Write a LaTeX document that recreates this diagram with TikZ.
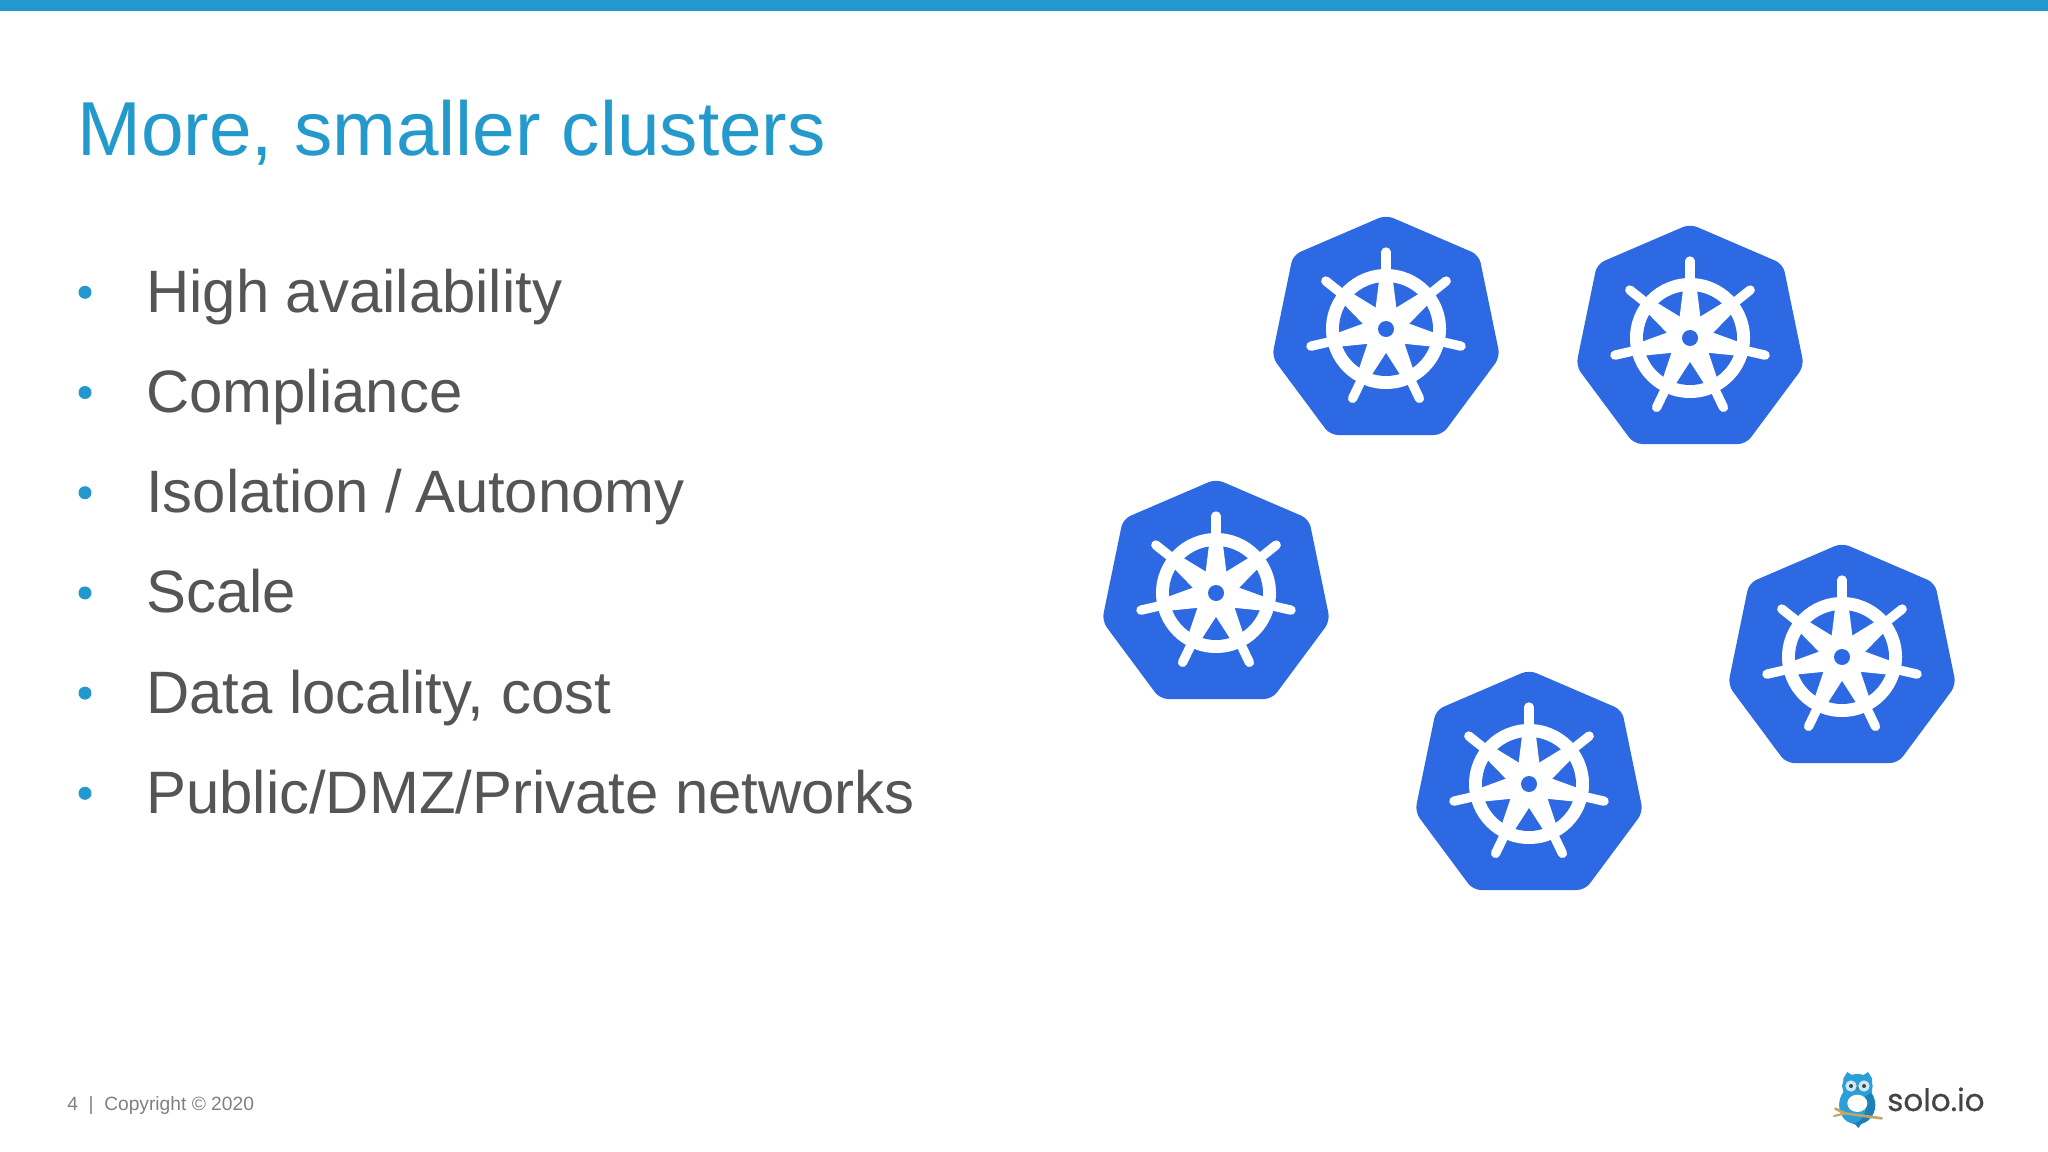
\documentclass[tikz,border=0pt]{standalone}
\usepackage{fontspec}
\setmainfont{Liberation Sans}
\newfontfamily\logofont[FakeBold=0.5]{Poppins}
\definecolor{barblue}{HTML}{2398CE}
\definecolor{titleblue}{HTML}{2499CC}
\definecolor{bodygray}{HTML}{555555}
\definecolor{footgray}{HTML}{808080}
\definecolor{kubeblue}{HTML}{2D69E3}
\definecolor{owlblue}{HTML}{2A9FD8}
\definecolor{owldark}{HTML}{1C7FB8}
\definecolor{owlpale}{HTML}{CDEAF5}
\definecolor{twig}{HTML}{BFA765}
\definecolor{logogray}{HTML}{444444}
\tikzset{
  titletext/.style={anchor=base west,text=titleblue,font=\fontsize{57.4}{62}\selectfont,inner sep=0pt},
  bodytext/.style={anchor=base west,text=bodygray,font=\fontsize{44.9}{50}\selectfont,inner sep=0pt},
  foottext/.style={anchor=base west,text=footgray,font=\fontsize{14.4}{16}\selectfont,inner sep=0pt},
  bulletdot/.style={circle,fill=barblue,minimum size=13*0.75pt,inner sep=0pt},
}
\newcommand{\kubewheel}[2]{%
  \begin{scope}[shift={(#1,#2)}]
    \fill[kubeblue,rounded corners=6pt] (0,-114) -- (93,-74) -- (114,28) -- (56,106) -- (-56,106) -- (-114,28) -- (-93,-74) -- cycle;
    \fill[white] (0,0) circle[radius=60];
    \fill[kubeblue] (0,0) circle[radius=47];
    \foreach \a in {-90,-38.57,12.86,64.29,115.71,167.14,218.57}{
      \fill[white,rotate=-\a] (0,-13) -- (52,-6.5) -- (52,6.5) -- (0,13) -- cycle;
      \draw[white,line width=7pt,line cap=round] (\a:56) -- (\a:77);
    }
    \fill[white] (0,0) circle[radius=16];
    \fill[kubeblue] (0,0) circle[radius=8];
  \end{scope}}
\begin{document}
\begin{tikzpicture}[x=0.75pt,y=-0.75pt]
\useasboundingbox (0,0) rectangle (2048,1152);
\fill[white] (0,0) rectangle (2048,1152);
\fill[barblue] (0,0) rectangle (2048,11);
\node[titletext] (title) at (77,156) {More, smaller clusters};
\foreach \n/\y/\t in {a/312.3/{High availability},b/412.5/{Compliance},c/512.7/{Isolation /\kern-3pt{} Autonomy},d/612.9/{Scale},e/713.1/{Data locality, cost},f/813.3/{Public/DMZ/Private networks}}{
  \node[bulletdot] (dot\n) at (85,\y-20) {};
  \node[bodytext] (item\n) at (146,\y) {\t};
}
\kubewheel{1386}{329}
\kubewheel{1690}{338}
\kubewheel{1216}{593}
\kubewheel{1842}{657}
\kubewheel{1529}{784}
\node[foottext] (foot) at (67,1110) {4\ \ |\ \ Copyright © 2020};
\begin{scope}[shift={(1800,1050)},x=0.25pt,y=-0.25pt]
  \fill[owldark] (172,165) ellipse[x radius=54,y radius=58];
  \fill[owldark] (150,205) -- (196,205) -- (175,234) -- cycle;
  \fill[owlblue] (130,85) -- (142,66) -- (160,78) -- (186,78) -- (204,66) -- (216,85) -- (216,130) -- (130,130) -- cycle;
  \fill[owlblue] (172,108) ellipse[x radius=46,y radius=36];
  \fill[owlblue] (158,165) ellipse[x radius=40,y radius=54];
  \fill[white] (172,160) ellipse[x radius=30,y radius=26];
  \fill[owlpale] (153,108) circle[radius=17];
  \fill[owlpale] (192,108) circle[radius=17];
  \fill[logogray] (153,108) circle[radius=6];
  \fill[logogray] (192,108) circle[radius=6];
  \fill[twig!70!black] (168,112) -- (177,112) -- (172,124) -- cycle;
  \draw[twig,line width=2pt,line cap=round] (106,176) -- (135,190) -- (245,205);
  \draw[twig,line width=1.6pt,line cap=round] (102,198) -- (135,190);
\end{scope}
\node[anchor=base west,inner sep=0pt,text=logogray,font=\logofont\fontsize{23.2}{28}\selectfont] (logo) at (1887,1111) {solo.io};
\end{tikzpicture}
\end{document}
